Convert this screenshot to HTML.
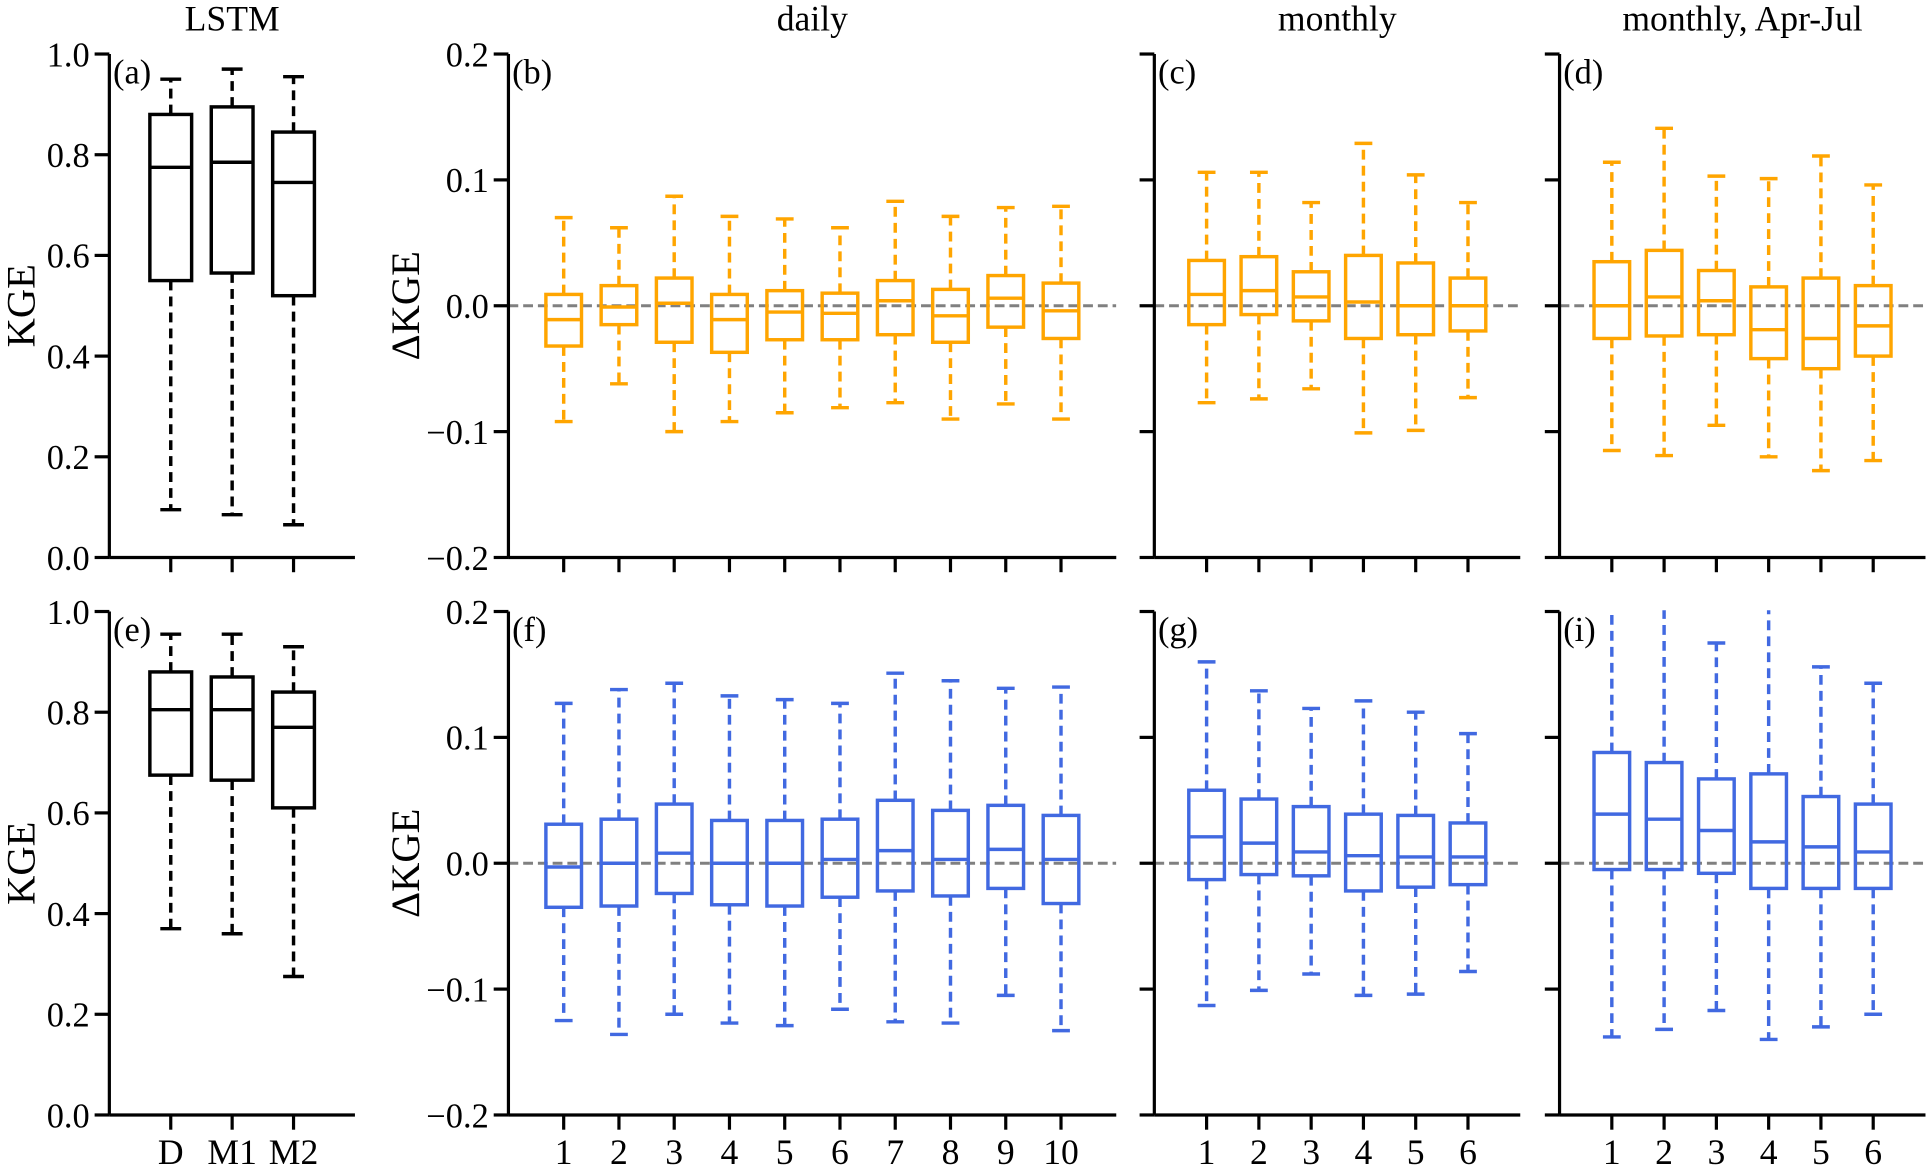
<!DOCTYPE html>
<html><head><meta charset="utf-8">
<style>
html,body{margin:0;padding:0;background:#fff;}
svg{display:block;}
svg text{font-family:"Liberation Serif","DejaVu Serif",serif;}
</style></head>
<body>
<svg id="fig" width="1928" height="1169" viewBox="0 0 1568 952" xmlns="http://www.w3.org/2000/svg" font-family="Liberation Serif, serif"></svg>
<script>
// ---- data (whisker-high, Q3, median, Q1, whisker-low) ----
const lstmCats = ["D","M1","M2"];
const aHigh = [0.95,0.97,0.955], aQ3 = [0.88,0.895,0.845], aMed = [0.775,0.785,0.745], aQ1 = [0.55,0.565,0.52], aLow = [0.095,0.085,0.065];
const eHigh = [0.955,0.955,0.93], eQ3 = [0.88,0.87,0.84], eMed = [0.805,0.805,0.77], eQ1 = [0.675,0.665,0.61], eLow = [0.37,0.36,0.275];

const dailyCats = ["1","2","3","4","5","6","7","8","9","10"];
const monthCats = ["1","2","3","4","5","6"];

const bHigh = [0.070,0.062,0.087,0.071,0.069,0.062,0.083,0.071,0.078,0.079];
const bQ3   = [0.009,0.016,0.022,0.009,0.012,0.010,0.020,0.013,0.024,0.018];
const bMed  = [-0.011,-0.001,0.002,-0.011,-0.005,-0.006,0.004,-0.008,0.006,-0.004];
const bQ1   = [-0.032,-0.015,-0.029,-0.037,-0.027,-0.027,-0.023,-0.029,-0.017,-0.026];
const bLow  = [-0.092,-0.062,-0.100,-0.092,-0.085,-0.081,-0.077,-0.090,-0.078,-0.090];

const cHigh = [0.106,0.106,0.082,0.129,0.104,0.082];
const cQ3   = [0.036,0.039,0.027,0.040,0.034,0.022];
const cMed  = [0.009,0.012,0.007,0.003,0.000,0.000];
const cQ1   = [-0.015,-0.007,-0.012,-0.026,-0.023,-0.020];
const cLow  = [-0.077,-0.074,-0.066,-0.101,-0.099,-0.073];

const dHigh = [0.114,0.141,0.103,0.101,0.119,0.096];
const dQ3   = [0.035,0.044,0.028,0.015,0.022,0.016];
const dMed  = [0.000,0.007,0.004,-0.019,-0.026,-0.016];
const dQ1   = [-0.026,-0.024,-0.023,-0.042,-0.050,-0.040];
const dLow  = [-0.115,-0.119,-0.095,-0.120,-0.131,-0.123];

const fHigh = [0.127,0.138,0.143,0.133,0.130,0.127,0.151,0.145,0.139,0.140];
const fQ3   = [0.031,0.035,0.047,0.034,0.034,0.035,0.050,0.042,0.046,0.038];
const fMed  = [-0.003,0.000,0.008,0.000,0.000,0.003,0.010,0.003,0.011,0.003];
const fQ1   = [-0.035,-0.034,-0.024,-0.033,-0.034,-0.027,-0.022,-0.026,-0.020,-0.032];
const fLow  = [-0.125,-0.136,-0.120,-0.127,-0.129,-0.116,-0.126,-0.127,-0.105,-0.133];

const gHigh = [0.160,0.137,0.123,0.129,0.120,0.103];
const gQ3   = [0.058,0.051,0.045,0.039,0.038,0.032];
const gMed  = [0.021,0.016,0.009,0.006,0.005,0.005];
const gQ1   = [-0.013,-0.009,-0.010,-0.022,-0.019,-0.017];
const gLow  = [-0.113,-0.101,-0.088,-0.105,-0.104,-0.086];

const iHigh = [0.22,0.21,0.175,0.22,0.156,0.143];
const iQ3   = [0.088,0.080,0.067,0.071,0.053,0.047];
const iMed  = [0.039,0.035,0.026,0.017,0.013,0.009];
const iQ1   = [-0.005,-0.005,-0.008,-0.020,-0.020,-0.020];
const iLow  = [-0.138,-0.132,-0.117,-0.140,-0.130,-0.120];

const kgeTicks = ["0.0","0.2","0.4","0.6","0.8","1.0"];
const dTicks = ["\u22120.2","\u22120.1","0.0","0.1","0.2"];

const NS = "http://www.w3.org/2000/svg";
const svg = document.getElementById("fig");
const FF = "Liberation Serif, DejaVu Serif, serif";
function mk(tag, attrs, parent){ const e=document.createElementNS(NS,tag); for(const k in attrs) e.setAttribute(k,attrs[k]); if(tag==="text") e.setAttribute("font-family",FF); (parent||svg).appendChild(e); return e; }

let clipId=0;
function panel(o){
  const g = mk("g",{});
  
  
  const xs = v => o.x0 + (v - o.xmin)/(o.xmax - o.xmin)*(o.x1-o.x0);
  const ys = v => o.yb - (v - o.ymin)/(o.ymax - o.ymin)*(o.yb-o.yt);
  const cid = "clip"+(clipId++);
  const cp = mk("clipPath",{id:cid},g);
  mk("rect",{x:o.x0,y:o.yt-1,width:o.x1-o.x0,height:o.yb-o.yt+1},cp);
  const plot = mk("g",{"clip-path":"url(#"+cid+")"},g);
  if(o.zero){
    const z = mk("line",{x1:o.x0,x2:o.x1,y1:ys(0),y2:ys(0),stroke:"#808080","stroke-width":2.4,"stroke-dasharray":"8,4"},plot);
    
    
  }
  const n = o.hi.length;
  for(let k=0;k<n;k++){
    const cx = xs(k+1), hw=o.bw/2, cw=o.bw/4;
    const bg = mk("g",{stroke:o.color,"stroke-width":2.8,fill:"none"},plot);
    
    
    mk("line",{x1:cx,x2:cx,y1:ys(o.q3[k]),y2:ys(o.hi[k]),"stroke-dasharray":"8,5"},bg);
    mk("line",{x1:cx,x2:cx,y1:ys(o.q1[k]),y2:ys(o.lo[k]),"stroke-dasharray":"8,5"},bg);
    mk("line",{x1:cx-cw,x2:cx+cw,y1:ys(o.hi[k]),y2:ys(o.hi[k])},bg);
    mk("line",{x1:cx-cw,x2:cx+cw,y1:ys(o.lo[k]),y2:ys(o.lo[k])},bg);
    mk("rect",{x:cx-hw,y:ys(o.q3[k]),width:o.bw,height:ys(o.q1[k])-ys(o.q3[k])},bg);
    mk("line",{x1:cx-hw,x2:cx+hw,y1:ys(o.med[k]),y2:ys(o.med[k])},bg);
  }
  const ax = mk("g",{stroke:"#000","stroke-width":2.6},g);
  
  
  mk("line",{x1:o.x0,x2:o.x0,y1:o.yt,y2:o.yb},ax);
  mk("line",{x1:o.x0,x2:o.x1,y1:o.yb,y2:o.yb},ax);
  o.yticks.forEach((lab,k)=>{
    const v = o.ymin + k*o.ystep, y=ys(v);
    mk("line",{x1:o.x0-12,x2:o.x0,y1:y,y2:y},ax);
    if(o.ylabels){
      const t = mk("text",{x:o.x0-16,y:y+10,"text-anchor":"end","font-size":28,fill:"#000"},g);
      t.textContent = lab;
      
      
    }
  });
  o.cats.forEach((lab,k)=>{
    const x = xs(k+1);
    mk("line",{x1:x,x2:x,y1:o.yb,y2:o.yb+12},ax);
    if(o.xlabels){
      const t = mk("text",{x:x,y:o.yb+40,"text-anchor":"middle","font-size":29,fill:"#000"},g);
      t.textContent = lab;
      
      
    }
  });
  const pl = mk("text",{x:o.x0+3,y:o.yt+24,"font-size":28,fill:"#000"},g);
  pl.textContent = o.letter;
  
  
  if(o.ytitle){
    const yc=(o.yt+o.yb)/2;
    const t = mk("text",{x:o.ytx,y:yc,"font-size":33,"text-anchor":"middle",fill:"#000",transform:"rotate(-90 "+o.ytx+" "+yc+")"},g);
    t.textContent=o.ytitle;
    
    
  }
  if(o.title){
    const t = mk("text",{x:(o.x0+o.x1)/2,y:25,"font-size":29,"text-anchor":"middle",fill:"#000"},g);
    t.textContent=o.title;
    
    
  }
}

const rows=[{yt:44,yb:454},{yt:498,yb:908}];
const ORG="#FFA500", BLU="#4169E1";
const kgeBase={xmin:0,xmax:4,x0:88,x1:288,ymin:0,ymax:1,ystep:0.2,yticks:kgeTicks,ylabels:true,cats:lstmCats,bw:34,color:"#000",ytitle:"KGE",ytx:27};
const colB={xmin:0,xmax:11,x0:413,x1:908,cats:dailyCats,ytitle:"\u0394KGE",ytx:340,ylabels:true};
const colC={xmin:0,xmax:7,x0:939,x1:1237,cats:monthCats,ylabels:false};
const colD={xmin:0,xmax:7,x0:1269,x1:1567,cats:monthCats,ylabels:false};
const dBase={ymin:-0.2,ymax:0.2,ystep:0.1,yticks:dTicks,bw:29,zero:true};

panel(Object.assign({},kgeBase,rows[0],{name:"panel-a",letter:"(a)",title:"LSTM",xlabels:false,hi:aHigh,q3:aQ3,med:aMed,q1:aQ1,lo:aLow}));
panel(Object.assign({},kgeBase,rows[1],{name:"panel-e",letter:"(e)",xlabels:true,hi:eHigh,q3:eQ3,med:eMed,q1:eQ1,lo:eLow}));
panel(Object.assign({},dBase,colB,rows[0],{name:"panel-b",letter:"(b)",title:"daily",color:ORG,xlabels:false,hi:bHigh,q3:bQ3,med:bMed,q1:bQ1,lo:bLow}));
panel(Object.assign({},dBase,colC,rows[0],{name:"panel-c",letter:"(c)",title:"monthly",color:ORG,xlabels:false,hi:cHigh,q3:cQ3,med:cMed,q1:cQ1,lo:cLow}));
panel(Object.assign({},dBase,colD,rows[0],{name:"panel-d",letter:"(d)",title:"monthly, Apr-Jul",color:ORG,xlabels:false,hi:dHigh,q3:dQ3,med:dMed,q1:dQ1,lo:dLow}));
panel(Object.assign({},dBase,colB,rows[1],{name:"panel-f",letter:"(f)",color:BLU,xlabels:true,hi:fHigh,q3:fQ3,med:fMed,q1:fQ1,lo:fLow}));
panel(Object.assign({},dBase,colC,rows[1],{name:"panel-g",letter:"(g)",color:BLU,xlabels:true,hi:gHigh,q3:gQ3,med:gMed,q1:gQ1,lo:gLow}));
panel(Object.assign({},dBase,colD,rows[1],{name:"panel-i",letter:"(i)",color:BLU,xlabels:true,hi:iHigh,q3:iQ3,med:iMed,q1:iQ1,lo:iLow}));
</script>
</body></html>
